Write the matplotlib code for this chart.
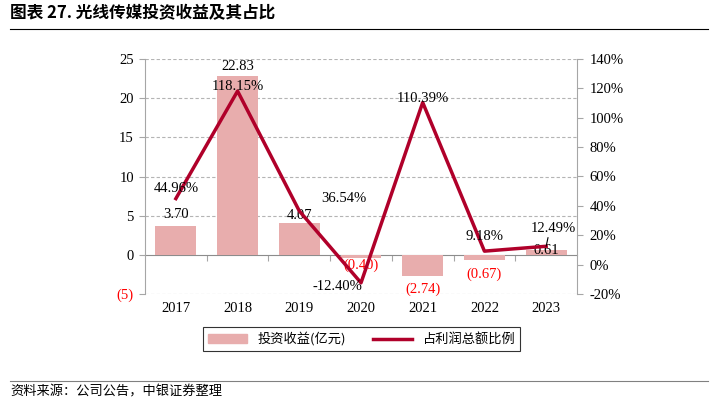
import matplotlib
matplotlib.use("Agg")
import matplotlib.pyplot as plt
from matplotlib.ticker import FuncFormatter, FixedLocator
from matplotlib.patches import Patch
from matplotlib.lines import Line2D

plt.rcParams['font.family'] = ['Liberation Serif', 'Noto Sans CJK SC', 'DejaVu Sans']

years = ['2017', '2018', '2019', '2020', '2021', '2022', '2023']
invest_income = [3.70, 22.83, 4.07, -0.40, -2.74, -0.67, 0.61]
profit_share = [44.96, 118.15, 36.54, -12.40, 110.39, 9.18, 12.49]
bar_labels = ['3.70', '22.83', '4.07', '(0.40)', '(2.74)', '(0.67)', '0.61']
pct_labels = ['44.96%', '118.15%', '36.54%', '-12.40%', '110.39%', '9.18%', '12.49%']
left_ticks = [-5, 0, 5, 10, 15, 20, 25]
left_tick_labels = ['(5)', '0', '5', '10', '15', '20', '25']
right_ticks = [-20, 0, 20, 40, 60, 80, 100, 120, 140]

bar_color = '#E8ADAD'
line_color = '#B0002A'
grey = '#A6A6A6'
PX = 0.72  # points per pixel
FS = 10.5

fig = plt.figure(figsize=(7.18, 3.98), dpi=100)
ax = fig.add_axes([145/718, 1-294/398, (577-145)/718, (294-59)/398])
x = list(range(len(years)))

ax.bar(x, invest_income, width=0.66, color=bar_color, zorder=2)
ax.set_xlim(-0.5, 6.5)
ax.set_ylim(-5, 25)
ax.set_yticks(left_ticks)
ax.set_yticklabels(left_tick_labels, fontsize=FS)
for t in ax.get_yticklabels():
    if t.get_text().startswith('('):
        t.set_color('red')
ax.set_xticks(x)
ax.set_xticklabels(years, fontsize=FS)
ax.tick_params(axis='x', length=0, pad=6)
ax.tick_params(axis='y', length=4, color=grey, pad=4)
for s in ['top', 'bottom', 'right']:
    ax.spines[s].set_visible(False)
ax.spines['left'].set_color(grey)
for v in left_ticks:
    if v != 0:
        ax.axhline(v, color='#B4B4B4', lw=0.8, ls=(0, (3, 2)), zorder=1)
# zero axis line with boundary ticks
sec = ax.secondary_xaxis(1/6)
sec.set_xticks([i + 0.5 for i in range(len(years) - 1)])
sec.set_xticklabels([])
sec.tick_params(axis='x', direction='out', length=4, color=grey)
sec.spines['bottom'].set_color('#8C8C8C')

bar_offsets = [11, 9, 7, -7, -13, -14, 0]
for xi, v, lab, off in zip(x, invest_income, bar_labels, bar_offsets):
    ax.annotate(lab, (xi, v), xytext=(0, off * PX), textcoords='offset points',
                ha='center', va='center', fontsize=FS,
                color='red' if v < 0 else 'black', zorder=5)

ax2 = ax.twinx()
ax2.plot(x, profit_share, color=line_color, lw=2.5, zorder=3)
ax2.set_ylim(-20, 140)
ax2.yaxis.set_major_locator(FixedLocator(right_ticks))
ax2.yaxis.set_major_formatter(FuncFormatter(lambda v, p: f'{v:.0f}%'))
ax2.tick_params(axis='y', length=4, color=grey, labelsize=FS, pad=5)
for s in ['top', 'bottom', 'left']:
    ax2.spines[s].set_visible(False)
ax2.spines['right'].set_color(grey)

pct_offsets = [(0, 10), (0, 5), (45, 12), (-24, -4), (0, 4), (0, 15), (7, 18)]
for i, (xi, v, lab, off) in enumerate(zip(x, profit_share, pct_labels, pct_offsets)):
    if i == 6:
        ax2.annotate(lab, (xi, v), xytext=(off[0] * PX, off[1] * PX), textcoords='offset points',
                     ha='center', va='center', fontsize=FS, zorder=6,
                     arrowprops=dict(arrowstyle='-', color='black', lw=0.8,
                                     shrinkA=0, shrinkB=0, relpos=(0.4, 0.0)))
    else:
        ax2.annotate(lab, (xi, v), xytext=(off[0] * PX, off[1] * PX), textcoords='offset points',
                     ha='center', va='center', fontsize=FS, zorder=6)

# legend
handles = [Patch(color=bar_color, label='投资收益(亿元)'),
           Line2D([0], [0], color=line_color, lw=2.5, label='占利润总额比例')]
leg = fig.legend(handles=handles, loc='center', bbox_to_anchor=(361.5/718, 1-339/398),
                 ncol=2, frameon=True, fancybox=False, edgecolor='black',
                 prop={'family': ['Noto Sans CJK SC'], 'size': 9.5},
                 handlelength=3.0, handleheight=0.6, columnspacing=2.0,
                 borderpad=0.35, borderaxespad=0)
leg.get_frame().set_linewidth(0.8)

# title and source
fig.text(10/718, 1-13/398, '图表 27. 光线传媒投资收益及其占比', fontsize=12, fontweight='bold',
         family=['Noto Sans CJK SC'], ha='left', va='center')
fig.add_artist(Line2D([10/718, 708/718], [1-29/398, 1-29/398], color='black', lw=0.8))
fig.add_artist(Line2D([10/718, 708/718], [1-381/398, 1-381/398], color='#808080', lw=0.8))
fig.text(10/718, 1-392/398, '资料来源：公司公告，中银证券整理', fontsize=9.5, style='italic',
         family=['Noto Sans CJK SC'], ha='left', va='center')

fig.savefig('out.png', dpi=100)
